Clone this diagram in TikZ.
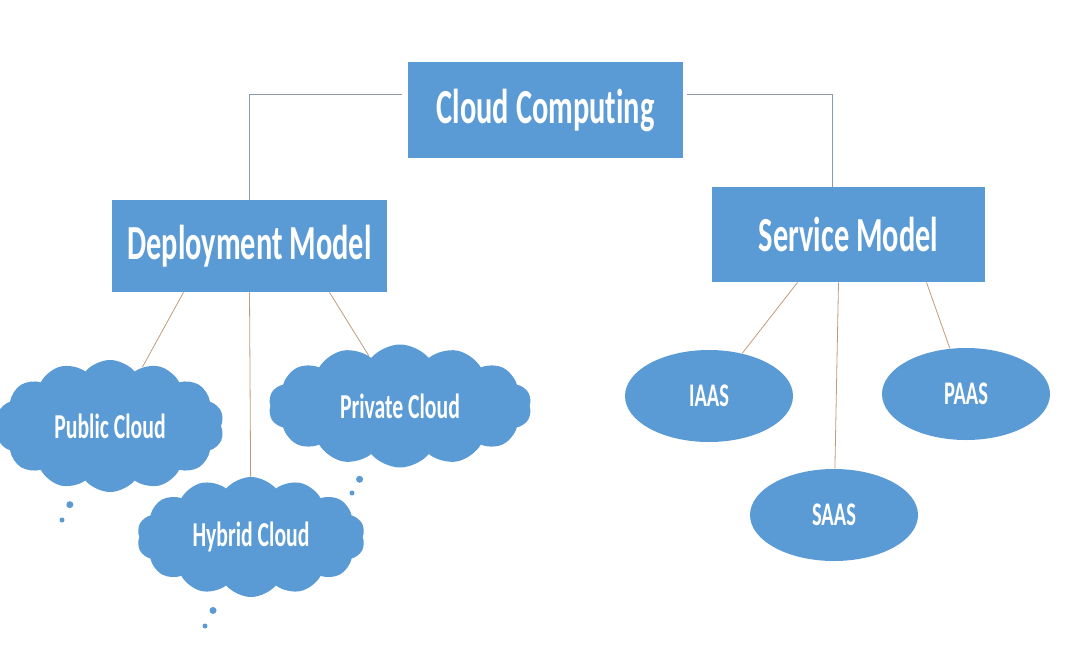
\documentclass[tikz,border=0pt]{standalone}
\usepackage{fontspec}
\setmainfont{Carlito}[FakeStretch=0.62,Ligatures=NoCommon]
\usepackage{tikz}
\usetikzlibrary{shapes}

\definecolor{boxblue}{RGB}{91,155,213}
\definecolor{toplink}{RGB}{140,152,172}
\definecolor{sublink}{RGB}{188,156,128}

\begin{document}
\begin{tikzpicture}[x=1pt,y=-1pt,
                every node/.style={fill=boxblue,text=white,inner sep=0pt},
                every path/.style={line width=0.8pt},
                box/.style={rectangle,minimum width=275pt,font=\fontsize{49}{52}\selectfont\bfseries},
                puff/.style={cloud callout,cloud puffs=14,cloud puff arc=100,cloud ignores aspect,
                  callout pointer start size=9pt,callout pointer end size=5pt,callout pointer segments=2,
                  font=\fontsize{35}{38}\selectfont\bfseries},
                oval/.style={ellipse,minimum width=168pt,minimum height=92pt,font=\fontsize{33}{36}\selectfont\bfseries}]
  \useasboundingbox (0,0) rectangle (1068,646);
  \node[box,minimum height=96pt]  (a) at (545.5,110)  { Cloud Computing };
  \node[box,minimum height=92pt]  (b) at (249.5,246)  { Deployment Model };
  \node[box,minimum height=95pt,minimum width=273pt]  (c) at (848.5,234.5)  { Service Model };
  \node[puff,minimum width=228pt,minimum height=132pt,callout absolute pointer={(62,520)}]  (d) at (110,426)  { Public Cloud };
  \node[puff,minimum width=263pt,minimum height=123pt,callout absolute pointer={(352,493)}] (e) at (400,406)  { Private Cloud };
  \node[puff,minimum width=228pt,minimum height=120pt,callout absolute pointer={(205,626)}] (f) at (251,537)  { Hybrid Cloud };
  \node[oval]  (g) at (709,396)  { IAAS };
  \node[oval]  (h) at (966,394)  { PAAS };
  \node[oval]  (i) at (834,515)  { SAAS };
  \draw[toplink] ([xshift=-6pt,yshift=16pt]a.west) -| (b.north);
  \draw[toplink] ([xshift=4pt,yshift=16pt]a.east) -| ([xshift=-16pt]c.north);
  \draw[sublink] ([xshift=-66pt]b.south) edge (d);
  \draw[sublink] (b.south) edge (f);
  \draw[sublink] ([xshift=80pt]b.south) edge (e);
  \draw[sublink] ([xshift=-51pt]c.south) edge (g);
  \draw[sublink] ([xshift=-10pt]c.south) edge (i);
  \draw[sublink] ([xshift=78pt]c.south) edge (h);
\end{tikzpicture}
\end{document}
